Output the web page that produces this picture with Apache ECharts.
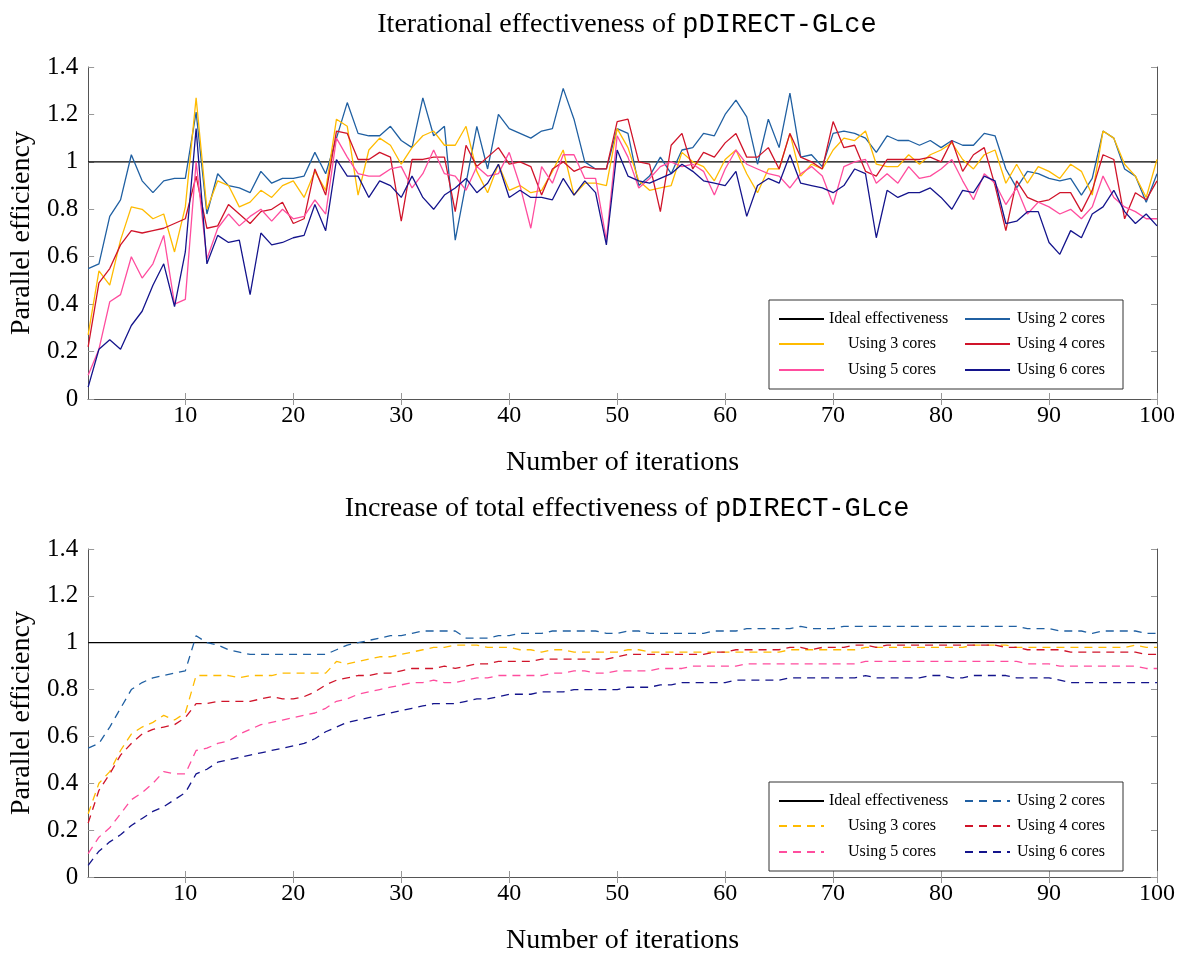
<!DOCTYPE html>
<html>
<head>
<meta charset="utf-8">
<script src="https://cdn.jsdelivr.net/npm/echarts@6/dist/echarts.min.js"></script>
<style>html,body{margin:0;padding:0;background:#fff}#c{width:1188px;height:956px}</style>
</head>
<body>
<div id="c"></div>
<script>
const iterations = [1,2,3,4,5,6,7,8,9,10,11,12,13,14,15,16,17,18,19,20,21,22,23,24,25,26,27,28,29,30,31,32,33,34,35,36,37,38,39,40,41,42,43,44,45,46,47,48,49,50,51,52,53,54,55,56,57,58,59,60,61,62,63,64,65,66,67,68,69,70,71,72,73,74,75,76,77,78,79,80,81,82,83,84,85,86,87,88,89,90,91,92,93,94,95,96,97,98,99,100];
const xTickValues = [10,20,30,40,50,60,70,80,90,100];
const idealX = [1, 100];
const idealY = [1, 1];

// Iterational effectiveness (top panel)
const iter2 = [0.55,0.57,0.77,0.84,1.03,0.92,0.87,0.92,0.93,0.93, 1.21,0.78,0.95,0.90,0.89,0.87,0.96,0.91,0.93,0.93, 0.94,1.04,0.95,1.10,1.25,1.12,1.11,1.11,1.15,1.09, 1.06,1.27,1.11,1.15,0.67,0.91,1.15,0.97,1.20,1.14, 1.12,1.10,1.13,1.14,1.31,1.18,1.00,0.97,0.97,1.14, 1.12,0.90,0.94,1.02,0.95,1.05,1.06,1.12,1.11,1.20, 1.26,1.19,0.99,1.18,1.06,1.29,1.02,1.03,0.98,1.12, 1.13,1.12,1.10,1.04,1.11,1.09,1.09,1.07,1.09,1.06, 1.09,1.07,1.07,1.12,1.11,0.97,0.89,0.96,0.95,0.93, 0.92,0.93,0.86,0.93,1.13,1.10,0.97,0.94,0.83,0.95];
const iter3 = [0.27,0.54,0.48,0.67,0.81,0.80,0.76,0.78,0.62,0.81, 1.27,0.80,0.92,0.90,0.81,0.83,0.88,0.85,0.90,0.92, 0.85,0.96,0.88,1.18,1.15,0.86,1.05,1.10,1.07,0.99, 1.06,1.11,1.13,1.07,1.07,1.15,0.96,0.87,0.99,0.88, 0.90,0.87,0.88,0.96,1.05,0.86,0.91,0.91,0.90,1.14, 1.06,0.92,0.88,0.89,0.90,1.04,1.00,0.98,0.92,1.01, 1.05,0.95,0.87,0.97,0.97,1.12,0.94,0.99,0.97,1.05, 1.10,1.09,1.13,0.99,0.98,0.98,1.03,0.99,1.03,1.05, 1.08,1.01,0.97,1.03,1.05,0.91,0.99,0.91,0.98,0.96, 0.93,0.99,0.96,0.86,1.13,1.10,0.99,0.94,0.85,1.01];
const iter4 = [0.22,0.49,0.55,0.65,0.71,0.70,0.71,0.72,0.74,0.76, 0.94,0.72,0.73,0.82,0.78,0.74,0.79,0.80,0.83,0.74, 0.76,0.97,0.86,1.13,1.12,1.01,1.01,1.04,1.02,0.75, 1.01,1.01,1.02,1.02,0.79,1.07,0.98,1.02,1.06,0.99, 1.00,0.98,0.86,0.97,1.00,0.96,0.98,0.97,0.97,1.17, 1.18,1.00,0.99,0.79,1.07,1.12,0.97,1.04,1.02,1.08, 1.12,1.02,1.02,1.06,0.97,1.12,1.02,1.00,0.97,1.17, 1.06,1.07,0.96,0.94,1.01,1.01,1.01,1.01,1.02,1.00, 1.09,0.96,1.03,1.06,0.90,0.71,0.92,0.85,0.83,0.84, 0.87,0.87,0.79,0.88,1.03,1.01,0.76,0.87,0.84,0.92];
const iter5 = [0.10,0.21,0.41,0.44,0.60,0.51,0.57,0.69,0.40,0.42, 1.00,0.59,0.72,0.78,0.73,0.77,0.80,0.75,0.80,0.76, 0.77,0.84,0.78,1.10,1.02,0.95,0.94,0.94,0.97,0.98, 0.89,0.95,1.05,0.95,0.94,0.88,0.98,0.94,0.95,1.04, 0.90,0.72,0.98,0.91,1.03,1.03,0.93,0.93,0.67,1.11, 1.02,0.89,0.93,0.98,1.00,0.98,0.99,0.96,0.86,0.97, 1.05,0.99,0.97,0.95,0.94,0.89,0.95,0.98,0.94,0.82, 0.98,1.00,1.01,0.91,0.95,0.91,0.98,0.93,0.94,0.97, 1.01,0.92,0.84,0.95,0.91,0.82,0.89,0.78,0.83,0.81, 0.78,0.80,0.76,0.81,0.94,0.85,0.81,0.79,0.76,0.76];
const iter6 = [0.05,0.21,0.25,0.21,0.31,0.37,0.48,0.57,0.39,0.62, 1.14,0.57,0.69,0.66,0.67,0.44,0.70,0.65,0.66,0.68, 0.69,0.82,0.71,1.01,0.94,0.94,0.85,0.92,0.90,0.85, 0.94,0.85,0.80,0.86,0.89,0.93,0.87,0.91,0.99,0.85, 0.88,0.85,0.85,0.84,0.93,0.86,0.92,0.87,0.65,1.05, 0.94,0.92,0.91,0.93,0.95,0.99,0.96,0.92,0.91,0.90, 0.96,0.77,0.90,0.93,0.91,1.03,0.91,0.90,0.89,0.87, 0.90,0.97,0.95,0.68,0.88,0.85,0.87,0.87,0.89,0.85, 0.80,0.88,0.87,0.94,0.92,0.74,0.75,0.79,0.79,0.66, 0.61,0.71,0.68,0.78,0.81,0.88,0.79,0.74,0.78,0.73];

// Total effectiveness (bottom panel)
const tot2 = [0.55,0.57,0.64,0.72,0.80,0.83,0.85,0.86,0.87,0.88, 1.03,1.00,0.99,0.97,0.96,0.95,0.95,0.95,0.95,0.95, 0.95,0.95,0.95,0.97,0.99,1.00,1.01,1.02,1.03,1.03, 1.04,1.05,1.05,1.05,1.05,1.02,1.02,1.02,1.03,1.03, 1.04,1.04,1.04,1.05,1.05,1.05,1.05,1.05,1.04,1.04, 1.05,1.05,1.04,1.04,1.04,1.04,1.04,1.04,1.05,1.05, 1.05,1.06,1.06,1.06,1.06,1.06,1.07,1.06,1.06,1.06, 1.07,1.07,1.07,1.07,1.07,1.07,1.07,1.07,1.07,1.07, 1.07,1.07,1.07,1.07,1.07,1.07,1.07,1.06,1.06,1.06, 1.05,1.05,1.05,1.04,1.05,1.05,1.05,1.05,1.04,1.04];
const tot3 = [0.27,0.40,0.45,0.54,0.61,0.64,0.66,0.69,0.67,0.70, 0.86,0.86,0.86,0.86,0.85,0.86,0.86,0.86,0.87,0.87, 0.87,0.87,0.87,0.92,0.91,0.92,0.93,0.94,0.94,0.95, 0.96,0.97,0.98,0.98,0.99,0.99,0.99,0.98,0.98,0.98, 0.97,0.97,0.96,0.97,0.97,0.96,0.96,0.96,0.96,0.96, 0.97,0.97,0.96,0.96,0.96,0.96,0.96,0.96,0.96,0.96, 0.96,0.96,0.96,0.96,0.96,0.97,0.97,0.97,0.97,0.97, 0.97,0.97,0.98,0.98,0.98,0.98,0.98,0.98,0.98,0.98, 0.98,0.98,0.99,0.99,0.99,0.99,0.98,0.98,0.98,0.98, 0.98,0.98,0.98,0.98,0.98,0.98,0.98,0.99,0.98,0.98];
const tot4 = [0.23,0.37,0.44,0.52,0.57,0.61,0.63,0.64,0.65,0.68, 0.74,0.74,0.75,0.75,0.75,0.75,0.76,0.77,0.76,0.76, 0.77,0.79,0.82,0.84,0.85,0.86,0.86,0.87,0.87,0.88, 0.89,0.89,0.89,0.90,0.89,0.90,0.91,0.91,0.92,0.92, 0.92,0.92,0.93,0.93,0.93,0.93,0.93,0.93,0.93,0.94, 0.95,0.95,0.95,0.95,0.95,0.95,0.95,0.95,0.96,0.96, 0.97,0.97,0.97,0.97,0.97,0.98,0.98,0.97,0.98,0.98, 0.98,0.99,0.99,0.98,0.99,0.99,0.99,0.99,0.99,0.99, 0.99,0.99,0.99,0.99,0.99,0.98,0.98,0.97,0.97,0.97, 0.97,0.96,0.96,0.96,0.96,0.96,0.96,0.96,0.95,0.95];
const tot5 = [0.10,0.17,0.21,0.27,0.33,0.36,0.40,0.45,0.44,0.44, 0.54,0.55,0.57,0.58,0.61,0.63,0.65,0.66,0.67,0.68, 0.69,0.70,0.72,0.75,0.76,0.78,0.79,0.80,0.81,0.82, 0.83,0.83,0.84,0.83,0.83,0.84,0.85,0.85,0.86,0.86, 0.86,0.86,0.86,0.87,0.87,0.88,0.88,0.87,0.87,0.88, 0.88,0.88,0.88,0.89,0.89,0.89,0.90,0.90,0.90,0.90, 0.90,0.91,0.91,0.91,0.91,0.91,0.91,0.91,0.91,0.91, 0.91,0.91,0.92,0.92,0.92,0.92,0.92,0.92,0.92,0.92, 0.92,0.92,0.92,0.92,0.92,0.92,0.92,0.91,0.91,0.91, 0.90,0.90,0.90,0.90,0.90,0.90,0.90,0.90,0.89,0.89];
const tot6 = [0.05,0.11,0.15,0.18,0.22,0.25,0.28,0.30,0.33,0.36, 0.44,0.46,0.49,0.50,0.51,0.52,0.53,0.54,0.55,0.56, 0.57,0.59,0.62,0.64,0.66,0.67,0.68,0.69,0.70,0.71, 0.72,0.73,0.74,0.74,0.74,0.75,0.76,0.76,0.77,0.78, 0.78,0.78,0.79,0.79,0.79,0.80,0.80,0.80,0.80,0.80, 0.81,0.81,0.81,0.82,0.82,0.83,0.83,0.83,0.83,0.83, 0.84,0.84,0.84,0.84,0.84,0.85,0.85,0.85,0.85,0.85, 0.85,0.85,0.86,0.85,0.85,0.85,0.85,0.85,0.86,0.86, 0.85,0.85,0.86,0.86,0.86,0.86,0.85,0.85,0.85,0.85, 0.84,0.83,0.83,0.83,0.83,0.83,0.83,0.83,0.83,0.83];

const coreNames = ['Using 2 cores','Using 3 cores','Using 4 cores','Using 5 cores','Using 6 cores'];
const idealName = 'Ideal effectiveness';
const colors = ['#2060a2','#ffbb00','#d0142a','#ff4d9e','#14148c'];

const SERIF = '"Liberation Serif", "DejaVu Serif", serif';
const MONO = '"Liberation Mono", "DejaVu Sans Mono", monospace';

const zip = (xs, ys) => xs.map((x, i) => [x, ys[i]]);

function panelAxes(gi) {
  const frame = {show: true, lineStyle: {color: '#555', width: 1}};
  const tick = {show: true, inside: true, length: 6, lineStyle: {color: '#999', width: 1}};
  const xs = [
    {type:'value', gridIndex: gi, min: 1, max: 100, position:'bottom',
     axisLine: frame, axisTick: Object.assign({customValues: xTickValues}, tick),
     axisLabel: {customValues: xTickValues, fontFamily: SERIF, fontSize: 24, color:'#000', margin: 5},
     splitLine: {show:false},
     name: 'Number of iterations', nameLocation: 'middle', nameGap: 50,
     nameTextStyle: {fontFamily: SERIF, fontSize: 28, color:'#000'}},
    {type:'value', gridIndex: gi, min: 1, max: 100, position:'top',
     axisLine: frame, axisTick: Object.assign({customValues: xTickValues}, tick),
     axisLabel: {show:false}, splitLine: {show:false}}
  ];
  const ys = [
    {type:'value', gridIndex: gi, min: 0, max: 1.4, interval: 0.2, position:'left',
     axisLine: frame, axisTick: tick,
     axisLabel: {fontFamily: SERIF, fontSize: 25, color:'#000', margin: 10},
     splitLine: {show:false},
     name: 'Parallel efficiency', nameLocation: 'middle', nameGap: 52,
     nameTextStyle: {fontFamily: SERIF, fontSize: 28, color:'#000'}},
    {type:'value', gridIndex: gi, min: 0, max: 1.4, interval: 0.2, position:'right',
     axisLine: frame, axisTick: tick, axisLabel: {show:false}, splitLine: {show:false}}
  ];
  return {xs, ys};
}

const a0 = panelAxes(0), a1 = panelAxes(1);

const topData = [iter2, iter3, iter4, iter5, iter6];
const botData = [tot2, tot3, tot4, tot5, tot6];

const series = [];
series.push({name: idealName, type:'line', xAxisIndex:0, yAxisIndex:0, data: zip(idealX, idealY),
  symbol:'none', lineStyle:{color:'#000', width:1.3}, itemStyle:{color:'#000'}, z:3, silent:true});
topData.forEach((d, k) => series.push({name: coreNames[k], type:'line', xAxisIndex:0, yAxisIndex:0,
  data: zip(iterations, d), symbol:'none', lineStyle:{color: colors[k], width:1.3}, itemStyle:{color: colors[k]}, silent:true}));
// bottom panel series use trailing space in names so legends pick their own (dashed) icons
series.push({name: idealName + ' ', type:'line', xAxisIndex:2, yAxisIndex:2, data: zip(idealX, idealY),
  symbol:'none', lineStyle:{color:'#000', width:1.3}, itemStyle:{color:'#000'}, z:3, silent:true});
botData.forEach((d, k) => series.push({name: coreNames[k] + ' ', type:'line', xAxisIndex:2, yAxisIndex:2,
  data: zip(iterations, d), symbol:'none', lineStyle:{color: colors[k], width:1.3, type:[8,6]}, itemStyle:{color: colors[k]}, silent:true}));

function legendItem(name, left, top, padLeft) {
  return {data:[name], left: left, top: top, padding: 0, itemWidth: 45, itemHeight: 14,
    selectedMode: false, formatter: n => n.trim(), z: 10,
    itemStyle: {opacity: 0, borderWidth: 0},
    textStyle: {fontFamily: SERIF, fontSize: 16, color:'#000', padding:[0,0,0,padLeft]}};
}
function legendsFor(suffix, dy) {
  return [
    legendItem(idealName + suffix, 778, 311 + dy, 0),
    legendItem(coreNames[0] + suffix, 964, 311 + dy, 2),
    legendItem(coreNames[1] + suffix, 778, 336 + dy, 19),
    legendItem(coreNames[2] + suffix, 964, 336 + dy, 2),
    legendItem(coreNames[3] + suffix, 778, 362 + dy, 19),
    legendItem(coreNames[4] + suffix, 964, 362 + dy, 2)
  ];
}

const titleRich = {a: {fontFamily: SERIF, fontSize: 28, fontWeight: 'normal', color:'#000'},
                   b: {fontFamily: MONO, fontSize: 27, fontWeight: 'normal', color:'#000'}};

const option = {
  backgroundColor: '#fff',
  animation: false,
  title: [
    {text: '{a|Iterational effectiveness of }{b|pDIRECT-GLce}', left: 622, top: 6, textAlign: 'center',
     textStyle: {fontWeight: 'normal', rich: titleRich}},
    {text: '{a|Increase of total effectiveness of }{b|pDIRECT-GLce}', left: 622, top: 490, textAlign: 'center',
     textStyle: {fontWeight: 'normal', rich: titleRich}}
  ],
  grid: [
    {left: 88, top: 67, width: 1069, height: 332},
    {left: 88, top: 549, width: 1069, height: 331}
  ],
  xAxis: [...a0.xs, ...a1.xs],
  yAxis: [...a0.ys, ...a1.ys].map((y, i) => Object.assign(y, {gridIndex: i < 2 ? 0 : 1})),
  legend: [...legendsFor('', 0), ...legendsFor(' ', 482)],
  graphic: [
    {type:'rect', shape:{x:769, y:300, width:354, height:89}, style:{fill:'#fff', stroke:'#333', lineWidth:1}, z: 5},
    {type:'rect', shape:{x:769, y:782, width:354, height:89}, style:{fill:'#fff', stroke:'#333', lineWidth:1}, z: 5}
  ],
  series: series
};
option.xAxis.forEach((x, i) => { x.gridIndex = i < 2 ? 0 : 1; });

const chart = echarts.init(document.getElementById('c'), null, {renderer: 'canvas'});
chart.setOption(option);
</script>
</body>
</html>
